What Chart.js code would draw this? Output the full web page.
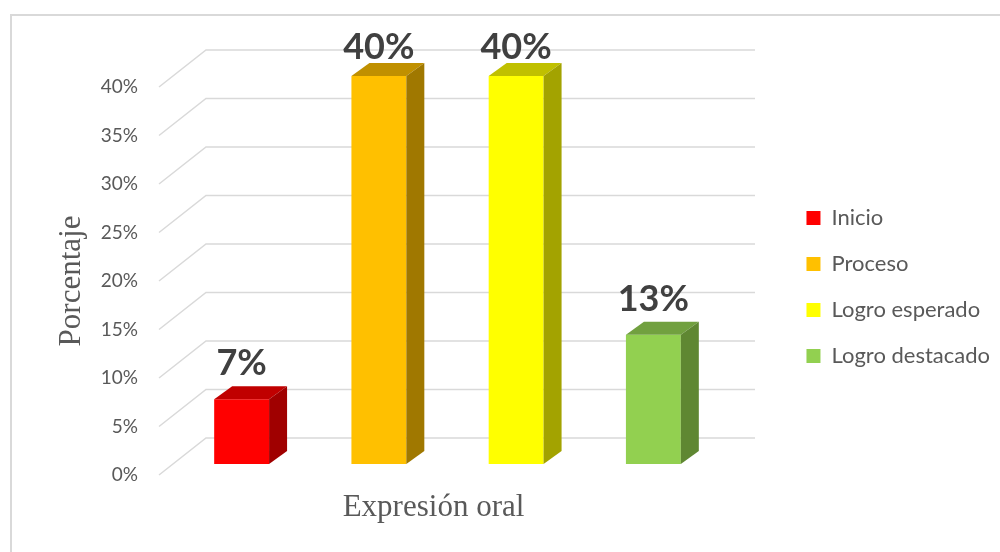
<!DOCTYPE html>
<html>
<head>
<meta charset="utf-8">
<script src="https://cdn.jsdelivr.net/npm/chart.js@4.4.1/dist/chart.umd.min.js"></script>
<style>
  html, body { margin: 0; padding: 0; background: #ffffff; }
  #wrap { width: 1000px; height: 552px; }
</style>
</head>
<body>
<div id="wrap"><canvas id="c" width="1000" height="552"></canvas></div>
<script>
// ---- data ----
const categories = ['Expresión oral'];
const seriesNames = ['Inicio', 'Proceso', 'Logro esperado', 'Logro destacado'];
const seriesValues = [6.67, 40, 40, 13.33];
const yTickMin = 0;
const yTickMax = 40;
const yTickStep = 5;
const xTitle = 'Expresión oral';
const yTitle = 'Porcentaje';

// ---- styles ----
const frontColors = ['#FF0000', '#FFC000', '#FFFF00', '#92D050'];
const topColors   = ['#C00000', '#C09000', '#C0C000', '#71A03F'];
const sideColors  = ['#A00000', '#A07800', '#A3A300', '#5F8732'];
const TEXT = '#595959';
const GRID = '#d9d9d9';
const WALL_DX = 47, WALL_DY = -37;   // depth of the back wall
const BAR_DX = 14, BAR_DY = -11;     // bars placed inside the floor depth
const BAR_DEPTH_X = 18, BAR_DEPTH_Y = -13;
const PLOT_RIGHT = 708;
const LEGEND_BOX_X = 807;

const LEG_FONT = 22, LEG_BOX = 14, LEG_PAD = 24;
let padWidth = 72;

const threeD = {
  id: 'threeD',
  beforeDraw(chart) {
    const ctx = chart.ctx;
    ctx.save();
    ctx.strokeStyle = GRID;
    ctx.lineWidth = 2;
    ctx.beginPath();
    ctx.moveTo(11, 560);
    ctx.lineTo(11, 15);
    ctx.lineTo(1010, 15);
    ctx.stroke();
    ctx.restore();
  },
  beforeDatasetsDraw(chart) {
    const {ctx, chartArea: a} = chart;
    const y = chart.scales.y;
    ctx.save();
    ctx.strokeStyle = GRID;
    ctx.lineWidth = 1.5;
    y.ticks.forEach(t => {
      const py = y.getPixelForValue(t.value);
      ctx.beginPath();
      ctx.moveTo(a.left, py);
      ctx.lineTo(a.left + WALL_DX, py + WALL_DY);
      ctx.lineTo(a.right + WALL_DX, py + WALL_DY);
      ctx.stroke();
    });
    ctx.restore();
    ctx.save();
    ctx.translate(BAR_DX, BAR_DY);
  },
  afterDatasetsDraw(chart) {
    const {ctx, chartArea: a} = chart;
    chart.data.datasets.forEach((ds, i) => {
      const meta = chart.getDatasetMeta(i);
      meta.data.forEach((el, j) => {
        const p = el.getProps(['x', 'y', 'base', 'width'], true);
        const x1 = p.x - p.width / 2, x2 = p.x + p.width / 2;
        const top = p.y, base = p.base;
        ctx.fillStyle = topColors[i];
        ctx.beginPath();
        ctx.moveTo(x1, top);
        ctx.lineTo(x1 + BAR_DEPTH_X, top + BAR_DEPTH_Y);
        ctx.lineTo(x2 + BAR_DEPTH_X, top + BAR_DEPTH_Y);
        ctx.lineTo(x2, top);
        ctx.closePath();
        ctx.fill();
        ctx.fillStyle = sideColors[i];
        ctx.beginPath();
        ctx.moveTo(x2, top);
        ctx.lineTo(x2 + BAR_DEPTH_X, top + BAR_DEPTH_Y);
        ctx.lineTo(x2 + BAR_DEPTH_X, base + BAR_DEPTH_Y);
        ctx.lineTo(x2, base);
        ctx.closePath();
        ctx.fill();
        const v = ds.data[j];
        ctx.fillStyle = '#404040';
        ctx.font = 'bold 36px Lato';
        ctx.textAlign = 'center';
        ctx.textBaseline = 'alphabetic';
        const by = Math.max(top - 24, a.top - 17);
        ctx.fillText(Math.round(v) + '%', p.x, by);
      });
    });
    ctx.restore();
  }
};

const chart = new Chart(document.getElementById('c'), {
  type: 'bar',
  data: {
    labels: categories,
    datasets: seriesNames.map((name, i) => ({
      label: name,
      data: [seriesValues[i]],
      backgroundColor: frontColors[i],
      borderWidth: 0,
      clip: false,
      categoryPercentage: 1.0,
      barPercentage: 0.4
    }))
  },
  options: {
    responsive: false,
    animation: false,
    devicePixelRatio: 1,
    layout: { padding: { top: 87, bottom: 26, left: 20, right: 0 } },
    plugins: {
      tooltip: { enabled: false },
      legend: {
        position: 'right',
        fullSize: false,
        title: { display: true, text: '', font: { size: 10 }, padding: 0 },
        labels: {
          boxWidth: LEG_BOX,
          boxHeight: LEG_BOX,
          padding: LEG_PAD,
          color: TEXT,
          font: { family: 'Lato', size: LEG_FONT }
        }
      }
    },
    scales: {
      x: {
        grid: { display: false, drawTicks: false },
        border: { display: false },
        ticks: { display: false },
        title: {
          display: true,
          text: xTitle,
          color: TEXT,
          font: { family: 'Liberation Serif', size: 31, lineHeight: '36px' },
          padding: { top: 15, bottom: 0 }
        }
      },
      y: {
        min: yTickMin,
        max: yTickMax,
        grid: { display: false, drawTicks: false },
        border: { display: false },
        ticks: {
          stepSize: yTickStep,
          padding: 21,
          color: TEXT,
          font: { family: 'Lato', size: 19 },
          callback: v => v + '%'
        },
        title: {
          display: true,
          text: yTitle,
          color: TEXT,
          font: { family: 'Liberation Serif', size: 31, lineHeight: '36px' },
          padding: { top: 34, bottom: 0 }
        },
        afterFit(s) { s.width = 139; }
      },
      pad: {
        type: 'linear',
        position: 'right',
        display: false,
        afterFit(s) { s.width = padWidth; }
      }
    }
  },
  plugins: [threeD]
});

// place the legend and the plot's right edge where the reference has them
const W = chart.legend.width;
const padR = Math.max(0, 1000 - W - (LEGEND_BOX_X - LEG_PAD));
const legendLeft = 1000 - padR - W;
padWidth = Math.max(0, legendLeft - PLOT_RIGHT);
chart.options.layout.padding.right = padR;
chart.update();
</script>
</body>
</html>
